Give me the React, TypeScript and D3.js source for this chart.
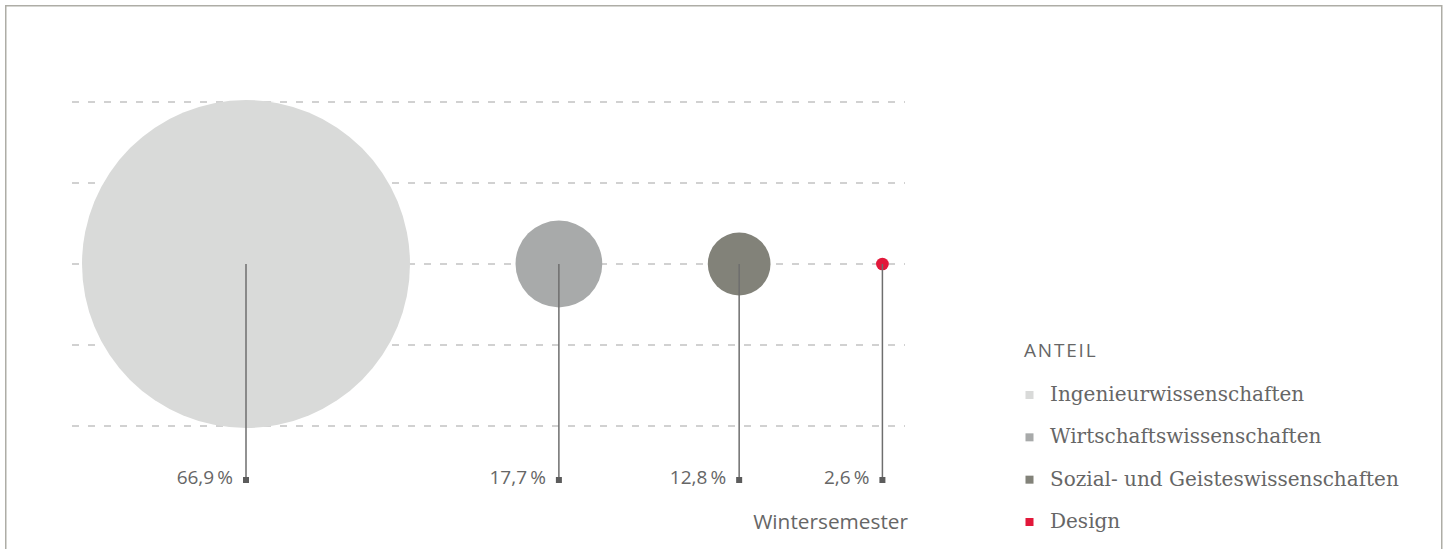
import { useMemo } from 'react';
import * as d3 from 'd3';

// Anteil nach Fachbereich, Wintersemester
const categories = ['Ingenieurwissenschaften', 'Wirtschaftswissenschaften', 'Sozial- und Geisteswissenschaften', 'Design'];
const shares = [66.9, 17.7, 12.8, 2.6];
const colors = ['#d9dad9', '#a8aaaa', '#828279', '#e2183a'];
const gridTicks = [0, 1, 2, 3, 4];
const legendTitle = 'ANTEIL';
const axisTitle = 'Wintersemester';

const W = 1449, H = 549;
const SANS = '"Open Sans", "Noto Sans", sans-serif';
const SERIF = '"DejaVu Serif", serif';

export default function App() {
  const fmt = (v: number) => v.toFixed(1).replace('.', ',') + '\u2009%';

  const layout = useMemo(() => {
    const r = d3.scaleLinear().domain([0, 66.9]).range([0, 164]);
    const GAP = 105.5;
    let cursor = 82;
    return shares.map((v, i) => {
      const rad = r(v);
      const cx = cursor + rad;
      cursor = cx + rad + GAP;
      return { v, rad, cx, color: colors[i], name: categories[i] };
    });
  }, []);

  const y = d3.scaleLinear().domain([0, 4]).range([102, 426]);
  const cy = y(2);
  const stemEnd = 480;

  const legY = d3.scaleLinear().domain([0, 3]).range([401, 528]);

  return (
    <div style={{ position: 'fixed', left: 0, top: 0 }}>
      <svg width={W} height={H} style={{ display: 'block' }}>
        <rect x={0} y={0} width={W} height={H} fill="#fff" />
        <rect x={5.75} y={5.75} width={1436} height={600} fill="none" stroke="#aeada6" strokeWidth={1.5} />

        {/* gridlines */}
        {gridTicks.map(t => (
          <line key={t} x1={72} x2={905} y1={y(t)} y2={y(t)}
            stroke="#c2c2c2" strokeWidth={1.5} strokeDasharray="7,9" />
        ))}

        {/* bubbles */}
        {layout.map((d, i) => (
          <g key={i}>
            <circle cx={d.cx} cy={cy} r={d.rad} fill={d.color} />
            <line x1={d.cx} x2={d.cx} y1={cy} y2={stemEnd} stroke="#6e6e6e" strokeWidth={1.5} />
            <rect x={d.cx - 3} y={stemEnd - 3} width={6} height={6} fill="#5c5c5c" />
            <text x={d.cx - 13} y={stemEnd + 3.5} textAnchor="end" fontFamily={SANS}
              fontSize={19} fill="#666">{fmt(d.v)}</text>
          </g>
        ))}

        <text x={908} y={529} textAnchor="end" fontFamily={SANS} fontSize={20.8} fill="#666">{axisTitle}</text>

        {/* legend */}
        <text x={1024} y={357} fontFamily={SANS} fontSize={19} letterSpacing={1.8} fill="#666">{legendTitle}</text>
        {layout.map((d, i) => (
          <g key={'l' + i}>
            <rect x={1025.5} y={legY(i) - 10} width={8} height={8} fill={d.color} />
            <text x={1050} y={legY(i)} fontFamily={SERIF} fontSize={20} fill="#666">{d.name}</text>
          </g>
        ))}
      </svg>
    </div>
  );
}
